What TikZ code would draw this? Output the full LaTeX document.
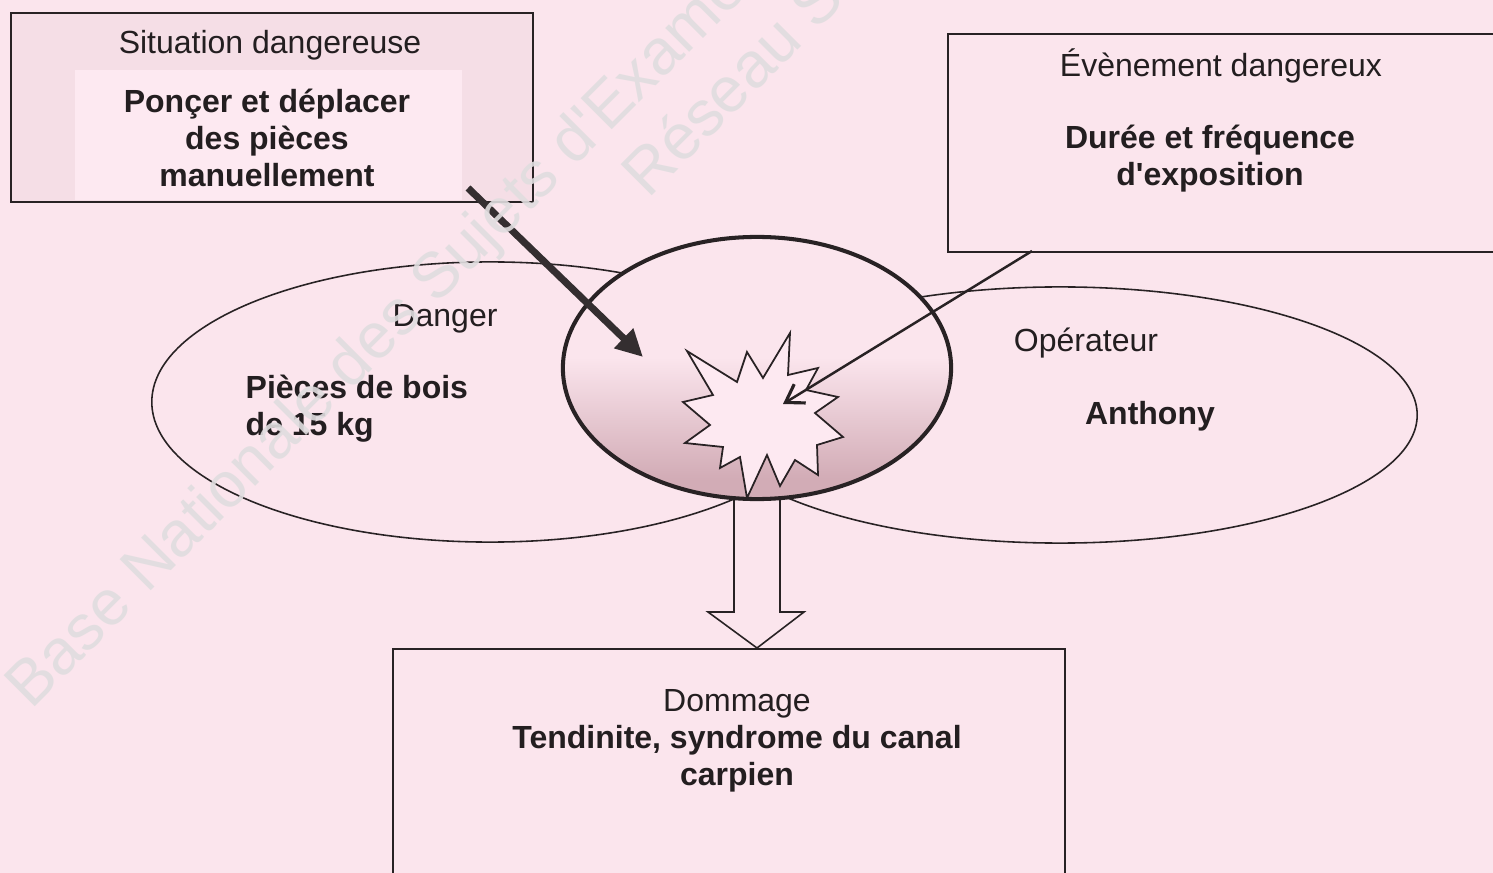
\documentclass[tikz,border=0pt]{standalone}
\usepackage{fontspec}
\setmainfont{Liberation Sans}[Ligatures=TeXOff]
\usetikzlibrary{shapes.geometric,arrows.meta,calc}
\definecolor{bg}{RGB}{251,229,237}
\definecolor{bfill}{RGB}{245,222,230}
\definecolor{binner}{RGB}{253,233,241}
\definecolor{cdark}{RGB}{210,172,182}
\definecolor{ink}{RGB}{35,30,32}
\definecolor{linec}{RGB}{40,34,36}
\definecolor{arrowc}{RGB}{52,46,48}
\definecolor{wmc}{RGB}{224,221,223}
\pgfdeclareverticalshading{coreshade}{100bp}{color(0bp)=(cdark); color(29bp)=(cdark); color(52bp)=(bg); color(100bp)=(bg)}
\pgfdeclarelayer{under}
\pgfsetlayers{under,main}
\begin{document}
\begin{tikzpicture}[x=0.01cm,y=-0.01cm,
  every node/.style={font=\fontsize{9.1}{10.5}\selectfont, text=ink, inner sep=0pt},
  box/.style={draw=linec, line width=0.45pt, rectangle, anchor=north west},
  title/.style={align=center},
  content/.style={align=center, font=\fontsize{9.1}{10.5}\selectfont\bfseries},
  ell/.style={ellipse, draw=linec, line width=0.45pt},
  core/.style={ellipse, draw=linec, line width=1.15pt, shade, shading=coreshade},
  burst/.style={draw=linec, line width=0.5pt, fill=binner, line join=miter},
  thickarrow/.style={draw=arrowc, line width=2pt, -{Triangle[length=0.27cm,width=0.26cm]}},
  thinarrow/.style={draw=linec, line width=0.7pt, -{Straight Barb[length=0.17cm,width=0.22cm,line width=0.9pt]}},
  blockarr/.style={draw=linec, line width=0.45pt, fill=bg, line join=miter},
  wm/.style={font=\fontsize{18.2}{21}\selectfont, text=wmc, text opacity=0.9, anchor=base west, rotate=45}
]
\begin{pgfonlayer}{under}
\useasboundingbox (0,0) rectangle (1493,873);
\clip (0,0) rectangle (1493,873);
\fill[bg] (0,0) rectangle (1493,873);
\end{pgfonlayer}
\clip (0,0) rectangle (1493,873);

% --- boxes
\node[box, fill=bfill, minimum width=5.22cm, minimum height=1.89cm] (sit) at (10,12) {};
\fill[binner] (75,70) rectangle (462,200);
\node[title] (sitT) at (270,45) {Situation dangereuse};
\node[content] (sitC) at (267,138) {Ponçer et déplacer\\des pièces\\manuellement};

\node[box, minimum width=5.9cm, minimum height=2.18cm] (evt) at (947,33) {};
\node[title] (evtT) at (1221,66) {Évènement dangereux};
\node[content] (evtC) at (1210,158.5) {Durée et fréquence\\d'exposition};

\node[box, minimum width=6.72cm, minimum height=3cm] (dmg) at (392,648) {};
\node[title] (dmgT) at (737,741) {Dommage\\\textbf{Tendinite, syndrome du canal}\\\textbf{carpien}};

% --- side ellipses
\node[ell, minimum width=6.76cm, minimum height=2.8cm] (dang) at (490,402) {};
\node[title] (dangT) at (445,319) {Danger};
\node[content, align=left, anchor=west] (dangC) at (245,409) {Pièces de bois\\de 15 kg};

\node[ell, minimum width=7.14cm, minimum height=2.56cm] (oper) at (1060,415) {};
\node[title] (operT) at (1086,343) {Opérateur};
\node[content] (operC) at (1150,416) {Anthony};

% --- central ellipse
\node[core, minimum width=3.88cm, minimum height=2.62cm] (core) at (757,368) {};

% --- block arrow to the damage box (drawn below the central ellipse)
\coordinate (tip) at (core.south |- dmg.north);
\begin{pgfonlayer}{under}
\draw[blockarr] ($(core.south)+(-23,-20)$) -- ($(tip)+(-23,-36)$) -- ($(tip)+(-49,-36)$)
  -- (tip) -- ($(tip)+(47,-36)$) -- ($(tip)+(23,-36)$) -- ($(core.south)+(23,-20)$) -- cycle;
\end{pgfonlayer}

% --- burst
\draw[burst] (790,333) -- (788,375) -- (818,368) -- (806,390) -- (838,397) -- (815,413)
  -- (843,437) -- (817,445) -- (818,475) -- (795,460) -- (780,486) -- (767,455)
  -- (747,498) -- (740,457) -- (720,468) -- (723,447) -- (685,443) -- (710,425)
  -- (683,402) -- (713,395) -- (687,351) -- (737,382) -- (747,352) -- (763,378) -- cycle;

% --- arrows
\coordinate (a1s) at (468,188);
\coordinate (a1e) at (643,357);
\draw[thickarrow] (a1s) -- (a1e);
\coordinate (a2s) at (1032,251);
\coordinate (a2e) at (783,404);
\draw[thinarrow] (a2s) -- (a2e);

% --- watermark
\node[wm] (wm1) at (31,711) {Base Nationale des Sujets d'Examens};
\node[wm] (wm2) at (648,200) {Réseau S};
\end{tikzpicture}
\end{document}
